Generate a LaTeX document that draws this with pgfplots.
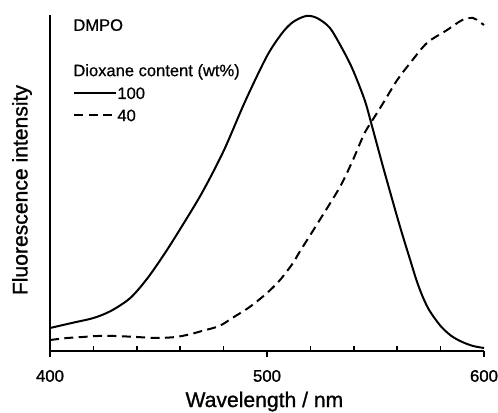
\documentclass[border=0pt]{standalone}
\usepackage{pgfplots}
\pgfplotsset{compat=1.18}
\usepackage{fontspec}
\setmainfont{Liberation Sans}
\begin{document}
\begin{tikzpicture}
\begin{axis}[
  at={(0,0)}, anchor=south west,
  scale only axis, width=217bp, height=168bp,
  xmin=400, xmax=600, ymin=0, ymax=336,
  axis x line*=bottom, axis y line*=left,
  axis line style={line width=1bp},
  y axis line style={shorten <=-3bp},
  xtick={400,500,600}, ytick=\empty,
  tick align=outside, major tick length=3bp,
  tick style={line width=0.8bp, black},
  extra x ticks={420,440,460,480,520,540,560,580},
  extra x tick labels={},
  extra x tick style={tick align=inside, major tick length=2.5bp},
  ticklabel style={font=\fontsize{8.4}{10}\selectfont\addfontfeatures{FakeBold=1.2}},
  xticklabel style={yshift=-3bp},
  /pgf/number format/assume math mode=true,
  xlabel={Wavelength / nm}, ylabel={Fluorescence intensity},
  label style={font=\fontsize{10.6}{12}\selectfont\addfontfeatures{FakeBold=1}},
  xlabel style={at={(axis description cs:0.494,-0.1667)}, anchor=base},
  ylabel style={at={(axis description cs:-0.0645,0.479)}, anchor=center},
  clip=false,
  legend style={draw=none, fill=none, inner sep=0pt, at={(axis description cs:0.053,0.787)}, anchor=north west,
    font=\fontsize{8.3}{9}\selectfont\addfontfeatures{FakeBold=0.6}, row sep=5.1bp,
    nodes={inner xsep=0pt, inner ysep=0pt, text height=6bp, text depth=0bp, anchor=west}},
  legend image code/.code={\draw[#1] (0bp,0bp) -- (21bp,0bp);},
]
\addplot[black, line width=1bp, smooth] coordinates {
(400,23) (410,28) (420,33) (428,40) (437,53) (445,73) (453,98) (460,122)
(470,158) (480,200) (490,250) (500,295) (507,318) (512,329) (518,335)
(523,333) (529,323) (535,301) (539.6,281) (545,251) (548,228)
(553.5,184) (560,134) (563,112) (566,91) (569,70) (572,53) (575,40) (580,25)
(585,15) (590,9) (595,5) (600,3)
};
\addlegendentry{100}
\addplot[black, line width=1bp, dash pattern=on 4.5bp off 2.7bp, smooth] coordinates {
(400,11) (408,13) (415,14) (422,15) (430,15) (440,14) (449,13) (458,14) (465,17)
(470,20) (478,25) (484,33) (492,44) (500,58) (506,71) (512,88) (515,99) (524,130)
(533.6,164) (539.6,191) (545,218) (550.7,238) (554.4,251) (560,271) (566,288)
(573.7,308) (583,321) (590,331) (595,333) (598,329) (600,326)
};
\addlegendentry{40}
\node[anchor=base west, inner sep=0pt, font=\fontsize{8.3}{9}\selectfont\addfontfeatures{FakeBold=0.6}] at (axis description cs:0.053,0.953) {DMPO};
\node[anchor=base west, inner sep=0pt, font=\fontsize{8.3}{9}\selectfont\addfontfeatures{FakeBold=0.6}] at (axis description cs:0.053,0.818) {Dioxane content (wt\%)};
\end{axis}
\pgfresetboundingbox
\path (-25bp,-31bp) rectangle (224bp,175.5bp);
\end{tikzpicture}
\end{document}
